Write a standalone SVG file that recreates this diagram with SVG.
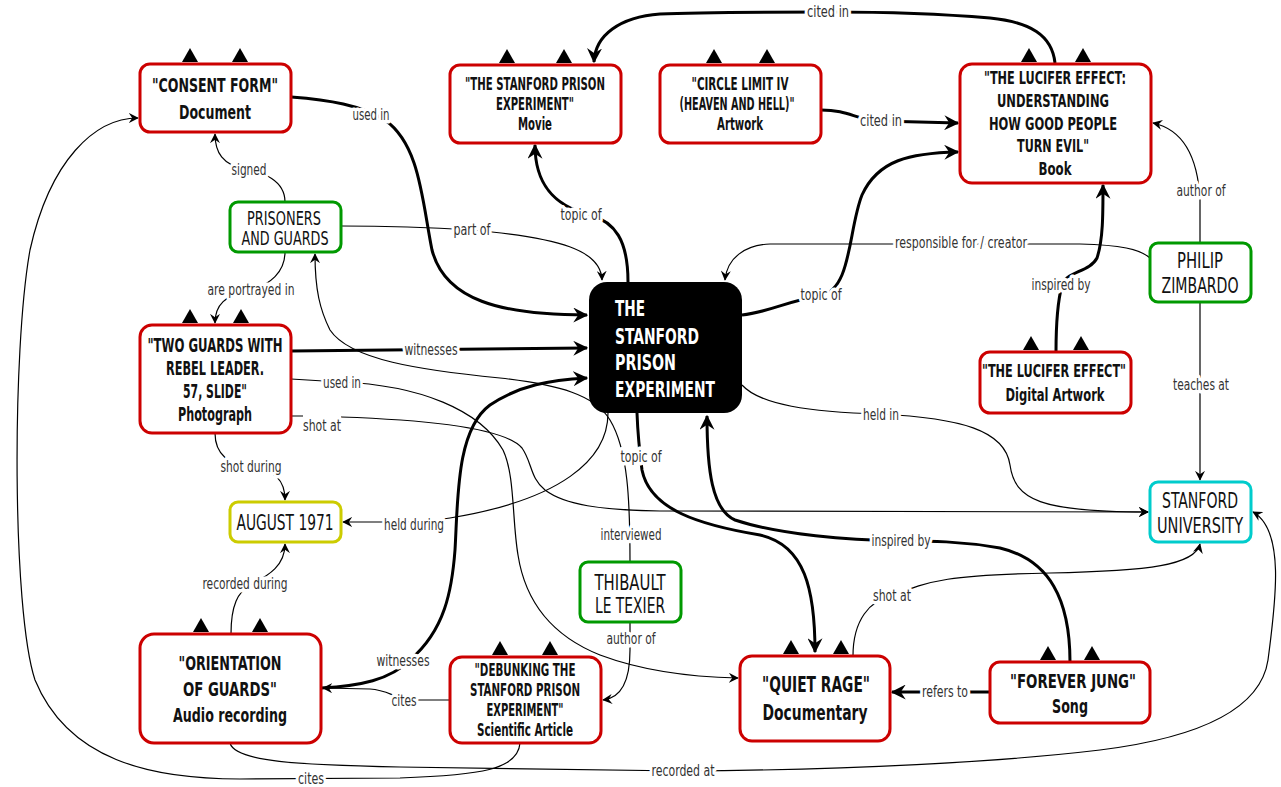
<svg xmlns="http://www.w3.org/2000/svg" width="1281" height="787" viewBox="0 0 1281 787">
<style>
.box{fill:#fff;stroke-width:3}
.r{stroke:#cc0000}.g{stroke:#009900}.y{stroke:#cccc00}.c{stroke:#00cccc}
text{font-family:"DejaVu Sans Condensed","DejaVu Sans","Liberation Sans",sans-serif}
.nt{text-anchor:middle;fill:#111}
.b{font-weight:bold}
.e{fill:none;stroke:#000}
.t{stroke-width:3;marker-end:url(#ah)}
.n{stroke-width:1.2;marker-end:url(#as)}
.lb{font-size:15px;fill:#333;text-anchor:middle;stroke:#fff;stroke-width:7;paint-order:stroke;stroke-linejoin:round}
.s17{font-size:17px}.s18{font-size:18px}.s19{font-size:19px}.s20{font-size:20px}.s21{font-size:21px}.s22{font-size:22px}
</style>
<defs>
<marker id="ah" markerUnits="userSpaceOnUse" viewBox="0 0 12 12" markerWidth="15" markerHeight="15" refX="11" refY="6" orient="auto"><path d="M0,0 L12,6 L0,12 L4,6 Z" fill="#000"/></marker>
<marker id="as" markerUnits="userSpaceOnUse" viewBox="0 0 12 12" markerWidth="10" markerHeight="10" refX="11" refY="6" orient="auto"><path d="M0,0 L12,6 L0,12 L4,6 Z" fill="#000"/></marker>
<path id="tri" d="M-8,0 L8,0 L0,-14 Z" fill="#000"/>
</defs>
<rect width="1281" height="787" fill="#fff"/>

<g id="connectors">
<path class="e t" d="M291,97 C330,100 360,105 385,120 C420,145 422,200 432,250 C445,300 500,315 587,315"/>
<path class="e n" d="M285,202 C285,180 262,172 247,170 C222,165 215,152 215,134"/>
<path class="e n" d="M341,226 C400,226 440,228 472,230 C560,238 601,250 602,280"/>
<path class="e n" d="M285,252 C285,272 270,285 250,290 C225,295 215,305 215,323"/>
<path class="e t" d="M628,282 C628,240 615,222 590,215 C550,205 535,180 535,145"/>
<path class="e t" d="M1055,63 C1052,35 1030,22 990,18 C930,13 880,12 830,12 C760,12 700,12 660,14 C620,17 595,35 594,62"/>
<path class="e t" d="M821,110 C850,110 855,120 880,121 L958,123"/>
<path class="e t" d="M742,315 C770,312 790,300 820,296 C852,290 848,230 862,195 C878,160 910,153 958,152"/>
<path class="e n" d="M1200,243 L1200,200 C1198,160 1185,130 1153,123"/>
<path class="e n" d="M1150,258 C1140,249 1120,245 1080,244 L770,244 C745,245 727,258 725,280"/>
<path class="e t" d="M1056,352 C1056,320 1058,300 1062,285 C1065,272 1090,272 1097,258 C1103,240 1103,215 1103,185"/>
<path class="e n" d="M1200,302 L1200,480"/>
<path class="e n" d="M742,385 C760,405 810,412 880,414 C960,418 1005,430 1010,465 C1015,500 1040,512 1148,512"/>
<path class="e t" d="M291,351 L587,348"/>
<path class="e n" d="M291,379 L340,382 C420,385 480,410 503,450 C515,475 512,520 518,555 C525,600 550,635 600,655 C640,670 690,677 738,678"/>
<path class="e n" d="M291,416 L303,416 M341,417 C430,420 505,428 522,448 C532,462 530,478 545,490 C565,505 600,510 660,511 L1148,512"/>
<path class="e n" d="M215,433 C215,455 230,465 250,467 C275,470 285,480 285,500"/>
<path class="e n" d="M608,413 C608,460 560,500 450,518 C430,521 420,522 410,522 L343,522"/>
<path class="e n" d="M630,562 C630,500 628,450 610,420 C595,395 560,385 500,378 C420,370 350,360 330,330 C320,310 315,290 315,254"/>
<path class="e t" d="M637,413 C638,440 640,455 642,470 C650,510 700,525 760,535 C805,545 815,590 815,652"/>
<path class="e t" d="M1070,662 C1070,600 1050,560 1000,548 C960,541 930,541 900,541 C850,540 780,535 735,520 C712,510 707,470 707,416"/>
<path class="e t" d="M321,688 C360,686 390,680 410,660 C445,630 452,590 455,550 C458,500 456,430 490,405 C520,385 550,380 587,378"/>
<path class="e n" d="M450,700 L415,700 C395,700 390,690 370,689 L323,688"/>
<path class="e n" d="M630,622 L630,650 C630,680 622,698 603,700"/>
<path class="e n" d="M520,743 C518,770 480,775 400,778 L240,779 C150,779 68,760 35,680 C12,610 12,350 30,250 C50,160 95,118 138,118"/>
<path class="e n" d="M230,743 C235,762 300,765 400,767 L683,771 C850,770 1000,762 1100,750 C1220,735 1262,700 1268,660 C1276,600 1285,530 1253,512"/>
<path class="e n" d="M231,634 C231,605 238,592 250,585 C270,575 285,565 285,544"/>
<path class="e n" d="M853,656 C853,620 870,600 892,596 C930,580 950,575 1050,573 C1150,571 1195,565 1200,544"/>
<path class="e t" d="M990,692 L892,692"/>

<text class="lb" x="371" y="120" textLength="37" lengthAdjust="spacingAndGlyphs">used in</text>
<text class="lb" x="249" y="175" textLength="35" lengthAdjust="spacingAndGlyphs">signed</text>
<text class="lb" x="472" y="235" textLength="37" lengthAdjust="spacingAndGlyphs">part of</text>
<text class="lb" x="251" y="295" textLength="87" lengthAdjust="spacingAndGlyphs">are portrayed in</text>
<text class="lb" x="581" y="220" textLength="41" lengthAdjust="spacingAndGlyphs">topic of</text>
<text class="lb" x="828" y="17" textLength="42" lengthAdjust="spacingAndGlyphs">cited in</text>
<text class="lb" x="881" y="126" textLength="42" lengthAdjust="spacingAndGlyphs">cited in</text>
<text class="lb" x="821" y="300" textLength="41" lengthAdjust="spacingAndGlyphs">topic of</text>
<text class="lb" x="1201" y="196" textLength="49" lengthAdjust="spacingAndGlyphs">author of</text>
<text class="lb" x="961" y="248" textLength="132" lengthAdjust="spacingAndGlyphs">responsible for / creator</text>
<text class="lb" x="1061" y="290" textLength="59" lengthAdjust="spacingAndGlyphs">inspired by</text>
<text class="lb" x="1201" y="390" textLength="56" lengthAdjust="spacingAndGlyphs">teaches at</text>
<text class="lb" x="881" y="420" textLength="36" lengthAdjust="spacingAndGlyphs">held in</text>
<text class="lb" x="431" y="355" textLength="53" lengthAdjust="spacingAndGlyphs">witnesses</text>
<text class="lb" x="342" y="388" textLength="38" lengthAdjust="spacingAndGlyphs">used in</text>
<text class="lb" x="322" y="431" textLength="38" lengthAdjust="spacingAndGlyphs">shot at</text>
<text class="lb" x="251" y="472" textLength="61" lengthAdjust="spacingAndGlyphs">shot during</text>
<text class="lb" x="414" y="530" textLength="60" lengthAdjust="spacingAndGlyphs">held during</text>
<text class="lb" x="631" y="540" textLength="61" lengthAdjust="spacingAndGlyphs">interviewed</text>
<text class="lb" x="641" y="462" textLength="41" lengthAdjust="spacingAndGlyphs">topic of</text>
<text class="lb" x="901" y="546" textLength="59" lengthAdjust="spacingAndGlyphs">inspired by</text>
<text class="lb" x="403" y="666" textLength="53" lengthAdjust="spacingAndGlyphs">witnesses</text>
<text class="lb" x="404" y="706" textLength="25" lengthAdjust="spacingAndGlyphs">cites</text>
<text class="lb" x="631" y="644" textLength="49" lengthAdjust="spacingAndGlyphs">author of</text>
<text class="lb" x="311" y="784" textLength="26" lengthAdjust="spacingAndGlyphs">cites</text>
<text class="lb" x="683" y="776" textLength="63" lengthAdjust="spacingAndGlyphs">recorded at</text>
<text class="lb" x="245" y="589" textLength="85" lengthAdjust="spacingAndGlyphs">recorded during</text>
<text class="lb" x="892" y="601" textLength="38" lengthAdjust="spacingAndGlyphs">shot at</text>
<text class="lb" x="945" y="697" textLength="46" lengthAdjust="spacingAndGlyphs">refers to</text>
</g>

<g id="n-consent">
<rect class="box r" x="140" y="64" width="151" height="68" rx="10"/>
<use href="#tri" x="190" y="62"/><use href="#tri" x="240" y="62"/>
<text class="nt b s20" x="215" y="92" textLength="126" lengthAdjust="spacingAndGlyphs">"CONSENT FORM"</text>
<text class="nt b s20" x="215" y="119" textLength="72" lengthAdjust="spacingAndGlyphs">Document</text>
</g>
<g id="n-movie">
<rect class="box r" x="450" y="65" width="171" height="78" rx="10"/>
<use href="#tri" x="507" y="63"/><use href="#tri" x="564" y="63"/>
<text class="nt b s17" x="535" y="90" textLength="140" lengthAdjust="spacingAndGlyphs">"THE STANFORD PRISON</text>
<text class="nt b s17" x="535" y="110" textLength="78" lengthAdjust="spacingAndGlyphs">EXPERIMENT"</text>
<text class="nt b s17" x="535" y="130" textLength="34" lengthAdjust="spacingAndGlyphs">Movie</text>
</g>
<g id="n-circle">
<rect class="box r" x="660" y="65" width="161" height="78" rx="10"/>
<use href="#tri" x="714" y="63"/><use href="#tri" x="767" y="63"/>
<text class="nt b s17" x="740" y="90" textLength="97" lengthAdjust="spacingAndGlyphs">"CIRCLE LIMIT IV</text>
<text class="nt b s17" x="737" y="110" textLength="115" lengthAdjust="spacingAndGlyphs">(HEAVEN AND HELL)"</text>
<text class="nt b s17" x="740" y="130" textLength="46" lengthAdjust="spacingAndGlyphs">Artwork</text>
</g>
<g id="n-book">
<rect class="box r" x="960" y="64" width="191" height="119" rx="12"/>
<use href="#tri" x="1029" y="62"/><use href="#tri" x="1083" y="62"/>
<text class="nt b s18" x="1055" y="84" textLength="142" lengthAdjust="spacingAndGlyphs">"THE LUCIFER EFFECT:</text>
<text class="nt b s18" x="1053" y="107" textLength="112" lengthAdjust="spacingAndGlyphs">UNDERSTANDING</text>
<text class="nt b s18" x="1053" y="130" textLength="128" lengthAdjust="spacingAndGlyphs">HOW GOOD PEOPLE</text>
<text class="nt b s18" x="1053" y="152" textLength="72" lengthAdjust="spacingAndGlyphs">TURN EVIL"</text>
<text class="nt b s18" x="1055" y="175" textLength="33" lengthAdjust="spacingAndGlyphs">Book</text>
</g>
<g id="n-prisoners">
<rect class="box g" x="230" y="202" width="111" height="50" rx="8"/>
<text class="nt s19" x="284" y="225" textLength="74" lengthAdjust="spacingAndGlyphs">PRISONERS</text>
<text class="nt s19" x="285" y="245" textLength="87" lengthAdjust="spacingAndGlyphs">AND GUARDS</text>
</g>
<g id="n-photo">
<rect class="box r" x="140" y="325" width="151" height="108" rx="12"/>
<use href="#tri" x="190" y="323"/><use href="#tri" x="241" y="323"/>
<text class="nt b s19" x="215" y="352" textLength="135" lengthAdjust="spacingAndGlyphs">"TWO GUARDS WITH</text>
<text class="nt b s19" x="215" y="375" textLength="98" lengthAdjust="spacingAndGlyphs">REBEL LEADER.</text>
<text class="nt b s19" x="215" y="398" textLength="64" lengthAdjust="spacingAndGlyphs">57, SLIDE"</text>
<text class="nt b s19" x="215" y="421" textLength="74" lengthAdjust="spacingAndGlyphs">Photograph</text>
</g>
<g id="n-spe">
<rect x="589" y="282" width="153" height="131" rx="18" fill="#000"/>
<text class="b s22" fill="#fff" x="615" y="316" textLength="30" lengthAdjust="spacingAndGlyphs">THE</text>
<text class="b s22" fill="#fff" x="615" y="344" textLength="84" lengthAdjust="spacingAndGlyphs">STANFORD</text>
<text class="b s22" fill="#fff" x="615" y="370" textLength="61" lengthAdjust="spacingAndGlyphs">PRISON</text>
<text class="b s22" fill="#fff" x="615" y="397" textLength="100" lengthAdjust="spacingAndGlyphs">EXPERIMENT</text>
</g>
<g id="n-august">
<rect class="box y" x="230" y="502" width="111" height="40" rx="8"/>
<text class="nt s22" x="285" y="530" textLength="97" lengthAdjust="spacingAndGlyphs">AUGUST 1971</text>
</g>
<g id="n-philip">
<rect class="box g" x="1150" y="243" width="101" height="59" rx="8"/>
<text class="nt s21" x="1200" y="268" textLength="46" lengthAdjust="spacingAndGlyphs">PHILIP</text>
<text class="nt s21" x="1200" y="293" textLength="77" lengthAdjust="spacingAndGlyphs">ZIMBARDO</text>
</g>
<g id="n-digital">
<rect class="box r" x="980" y="352" width="151" height="61" rx="10"/>
<use href="#tri" x="1031" y="350"/><use href="#tri" x="1081" y="350"/>
<text class="nt b s18" x="1054" y="377" textLength="144" lengthAdjust="spacingAndGlyphs">"THE LUCIFER EFFECT"</text>
<text class="nt b s18" x="1055" y="401" textLength="99" lengthAdjust="spacingAndGlyphs">Digital Artwork</text>
</g>
<g id="n-stanford">
<rect class="box c" x="1150" y="482" width="101" height="60" rx="8"/>
<text class="nt s22" x="1200" y="508" textLength="76" lengthAdjust="spacingAndGlyphs">STANFORD</text>
<text class="nt s22" x="1200" y="533" textLength="86" lengthAdjust="spacingAndGlyphs">UNIVERSITY</text>
</g>
<g id="n-orientation">
<rect class="box r" x="140" y="634" width="181" height="109" rx="14"/>
<use href="#tri" x="201" y="632"/><use href="#tri" x="260" y="632"/>
<text class="nt b s20" x="230" y="670" textLength="103" lengthAdjust="spacingAndGlyphs">"ORIENTATION</text>
<text class="nt b s20" x="230" y="696" textLength="94" lengthAdjust="spacingAndGlyphs">OF GUARDS"</text>
<text class="nt b s20" x="230" y="722" textLength="114" lengthAdjust="spacingAndGlyphs">Audio recording</text>
</g>
<g id="n-debunking">
<rect class="box r" x="450" y="657" width="151" height="86" rx="12"/>
<use href="#tri" x="500" y="655"/><use href="#tri" x="550" y="655"/>
<text class="nt b s17" x="525" y="676" textLength="101" lengthAdjust="spacingAndGlyphs">"DEBUNKING THE</text>
<text class="nt b s17" x="525" y="696" textLength="110" lengthAdjust="spacingAndGlyphs">STANFORD PRISON</text>
<text class="nt b s17" x="525" y="716" textLength="77" lengthAdjust="spacingAndGlyphs">EXPERIMENT"</text>
<text class="nt b s17" x="525" y="736" textLength="96" lengthAdjust="spacingAndGlyphs">Scientific Article</text>
</g>
<g id="n-thibault">
<rect class="box g" x="580" y="562" width="101" height="60" rx="8"/>
<text class="nt s22" x="630" y="590" textLength="71" lengthAdjust="spacingAndGlyphs">THIBAULT</text>
<text class="nt s22" x="630" y="613" textLength="70" lengthAdjust="spacingAndGlyphs">LE TEXIER</text>
</g>
<g id="n-quietrage">
<rect class="box r" x="740" y="656" width="150" height="85" rx="12"/>
<use href="#tri" x="791" y="654"/><use href="#tri" x="841" y="654"/>
<text class="nt b s22" x="816" y="692" textLength="108" lengthAdjust="spacingAndGlyphs">"QUIET RAGE"</text>
<text class="nt b s22" x="815" y="720" textLength="105" lengthAdjust="spacingAndGlyphs">Documentary</text>
</g>
<g id="n-foreverjung">
<rect class="box r" x="990" y="662" width="160" height="61" rx="10"/>
<use href="#tri" x="1048" y="660"/><use href="#tri" x="1092" y="660"/>
<text class="nt b s20" x="1073" y="688" textLength="126" lengthAdjust="spacingAndGlyphs">"FOREVER JUNG"</text>
<text class="nt b s20" x="1070" y="713" textLength="36" lengthAdjust="spacingAndGlyphs">Song</text>
</g>
</svg>
